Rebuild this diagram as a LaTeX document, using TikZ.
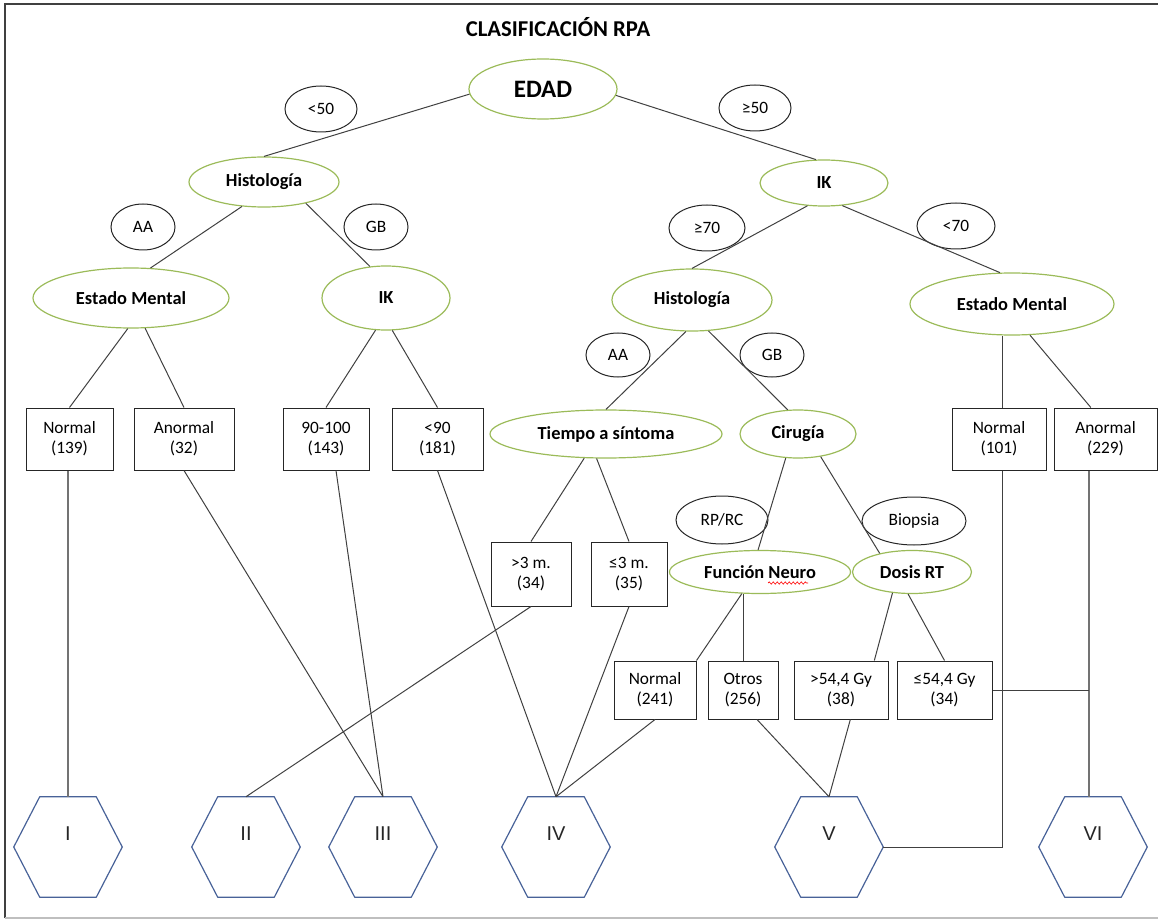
\documentclass[tikz,border=0pt]{standalone}
\usepackage{fontspec}
\setmainfont{Carlito}
\newfontfamily\stagefont{Liberation Sans}
\usepackage{tikz}
\usetikzlibrary{
  calc,
  shapes.geometric,
  decorations.pathmorphing
}
\definecolor{condgreen}{RGB}{155,187,89}
\definecolor{hexblue}{RGB}{72,98,152}
\tikzset{
  dims/.style 2 args = {minimum width=#1*0.75pt, minimum height=#2*0.75pt},
  cond/.style = {
    ellipse, draw=condgreen, line width=0.9pt, inner sep=0pt,
    font=\bfseries\fontsize{13.8}{16}\selectfont
  },
  branch/.style = {
    ellipse, draw=black!85, line width=0.75pt, inner sep=0pt,
    font=\fontsize{13}{15}\selectfont
  },
  leaf/.style = {
    rectangle, draw=black!85, line width=0.75pt, inner sep=0pt, align=center,
    font=\fontsize{13}{15}\selectfont
  },
  stage/.style = {
    rectangle, inner sep=0pt, minimum width=81pt, minimum height=75pt
  },
  hexline/.style = {draw=hexblue, line width=0.9pt, line join=round},
  stagelabel/.style = {font=\stagefont\fontsize{15}{18}\selectfont, yshift=10pt, text=black!85},
  link/.style = {draw=black!75, line width=0.75pt},
  thicklink/.style = {draw=black!55, line width=1.3pt},
}

\begin{document}
\begin{tikzpicture}[x=0.75pt, y=-0.75pt]
  \useasboundingbox (0,0) rectangle (1158,920);
  \draw[black!75, line width=1.2pt] (5,918) -- (5,4) -- (1158,4);
  \draw[black!25, line width=1.2pt] (5,918) -- (1158,918);

  \node[font=\bfseries\fontsize{17}{20}\selectfont] (title) at (558,27) {CLASIFICACIÓN RPA};

  % decision nodes
  \node[cond, dims={148}{60}, font=\bfseries\fontsize{18.8}{22}\selectfont] (edad) at (543,89) {EDAD};
  \node[cond, dims={150}{50}] (histL) at (264,182) {Histología};
  \node[cond, dims={128}{46}] (ikR) at (824,183) {IK};
  \node[cond, dims={196}{60}] (estL) at (131,298) {Estado Mental};
  \node[cond, dims={128}{64}] (ikL) at (386,298) {IK};
  \node[cond, dims={160}{62}] (histR) at (692,300) {Histología};
  \node[cond, dims={204}{62}] (estR) at (1012,304) {Estado Mental};
  \node[cond, dims={232}{48}] (tiempo) at (606,434) {Tiempo a síntoma};
  \node[cond, dims={116}{48}] (cirugia) at (798,434) {Cirugía};
  \node[cond, dims={181}{43}] (fneuro) at (760,572) {Función Neuro};
  \node[cond, dims={119}{43}] (dosis) at (912,572) {Dosis RT};
  \draw[red, line width=0.5pt, decorate, decoration={snake, amplitude=0.8pt, segment length=3pt}]
    (768,583) -- (808,583);

  % branch values
  \node[branch, dims={72}{46}] (lt50) at (321,109) {<50};
  \node[branch, dims={72}{46}] (ge50) at (755,108) {≥50};
  \node[branch, dims={64}{46}] (aaL) at (143,227) {AA};
  \node[branch, dims={64}{46}] (gbL) at (376,227) {GB};
  \node[branch, dims={76}{46}] (ge70) at (707,228) {≥70};
  \node[branch, dims={78}{46}] (lt70) at (956,226) {<70};
  \node[branch, dims={64}{44}] (aaR) at (618,355) {AA};
  \node[branch, dims={64}{44}] (gbR) at (772,355) {GB};
  \node[branch, dims={92}{48}] (rprc) at (722,520) {RP/RC};
  \node[branch, dims={104}{48}] (biopsia) at (914,521) {Biopsia};

  % groups
  \node[leaf, dims={87}{62}] (n139) at (69.5,439) {Normal\\(139)};
  \node[leaf, dims={100}{62}] (a32) at (184,439) {Anormal\\(32)};
  \node[leaf, dims={86}{62}] (b143) at (326,439) {90-100\\(143)};
  \node[leaf, dims={91}{62}] (b181) at (437.5,439) {<90\\(181)};
  \node[leaf, dims={94}{62}] (n101) at (999,439) {Normal\\(101)};
  \node[leaf, dims={103}{62}] (a229) at (1105.5,439) {Anormal\\(229)};
  \node[leaf, dims={80}{64}] (t34) at (531,574) {>3 m.\\(34)};
  \node[leaf, dims={76}{64}] (t35) at (629,574) {≤3 m.\\(35)};
  \node[leaf, dims={82}{58}] (n241) at (655,690) {Normal\\(241)};
  \node[leaf, dims={70}{58}] (o256) at (743,690) {Otros\\(256)};
  \node[leaf, dims={94}{58}] (g38) at (841,690) {>54,4 Gy\\(38)};
  \node[leaf, dims={95}{58}] (g34) at (944.5,690) {≤54,4 Gy\\(34)};

  % RPA classes
  \node[stage, label={[stagelabel]center:I}] (cI) at (68,847) {};
  \node[stage, label={[stagelabel]center:II}] (cII) at (246,847) {};
  \node[stage, label={[stagelabel]center:III}] (cIII) at (383,847) {};
  \node[stage, label={[stagelabel]center:IV}] (cIV) at (556,847) {};
  \node[stage, label={[stagelabel]center:V}] (cV) at (829,847) {};
  \node[stage, label={[stagelabel]center:VI}] (cVI) at (1093,847) {};
  \foreach \c in {cI,cII,cIII,cIV,cV,cVI}
    \draw[hexline] ([xshift=19.5pt]\c.north west) -- ([xshift=-19.5pt]\c.north east)
      -- (\c.east) -- ([xshift=-19.5pt]\c.south east) -- ([xshift=19.5pt]\c.south west)
      -- (\c.west) -- cycle;
  \coordinate (vcorner) at (1002,847);
  \coordinate (vitop) at ([xshift=-3pt]cVI.north);

  % tree edges
  \draw[link] (edad.184) -- (histL.north);
  \draw[link] (edad.-5) -- (ikR.109);
  \draw[link] (histL.228) -- (estL.57);
  \draw[link] (histL.-27) -- (ikL.117);
  \draw[link] (ikR.234) -- (histR.north);
  \draw[link] (ikR.-51) -- (estR.111);
  \draw[link] (estL.-96) -- (n139.north);
  \draw[link] (estL.-65) -- (a32.north);
  \draw[link] (ikL.-108) -- (b143.north);
  \draw[link] (ikL.-79) -- (b181.north);
  \draw[link] (histR.-101) -- (tiempo.north);
  \draw[link] (histR.-62) -- (cirugia.113);
  \draw[link] (estR.south -| vcorner) -- (n101.north -| vcorner);
  \draw[link] (estR.-60) -- ([xshift=-11pt]a229.north);
  \draw[link] (tiempo.228) -- (t34.north);
  \draw[link] (tiempo.249) -- (t35.north);
  \draw[link] (cirugia.243) -- (fneuro.95);
  \draw[link] (cirugia.-45) -- (dosis.150);
  \draw[link] (fneuro.230) -- (n241.north east);
  \draw[link] (o256.north) -- (o256.north |- fneuro.south);
  \draw[link] (dosis.227) -- ([xshift=25pt]g38.north);
  \draw[link] (dosis.-100) -- (g34.north);

  % groups to classes
  \draw[thicklink] (cI.north |- n139.south) -- (cI.north);
  \draw[link] (a32.south) -- (cIII.north);
  \draw[link] ([xshift=7.5pt]b143.south) -- (cIII.north);
  \draw[link] (b181.south) -- (cIV.north);
  \draw[link] (t34.south) -- (cII.north);
  \draw[link] (t35.south) -- (cIV.north);
  \draw[link] (n241.south) -- (cIV.north);
  \draw[link] ([xshift=10.5pt]o256.south) -- (cV.north);
  \draw[link] ([xshift=7pt]g38.south) -- (cV.north);
  \draw[link] (n101.south -| vcorner) -- (vcorner) -- (cV.east);
  \draw[thicklink] (vitop |- a229.south) -- (vitop);
  \draw[link] (g34.east) -- (g34.east -| vitop);
\end{tikzpicture}
\end{document}
